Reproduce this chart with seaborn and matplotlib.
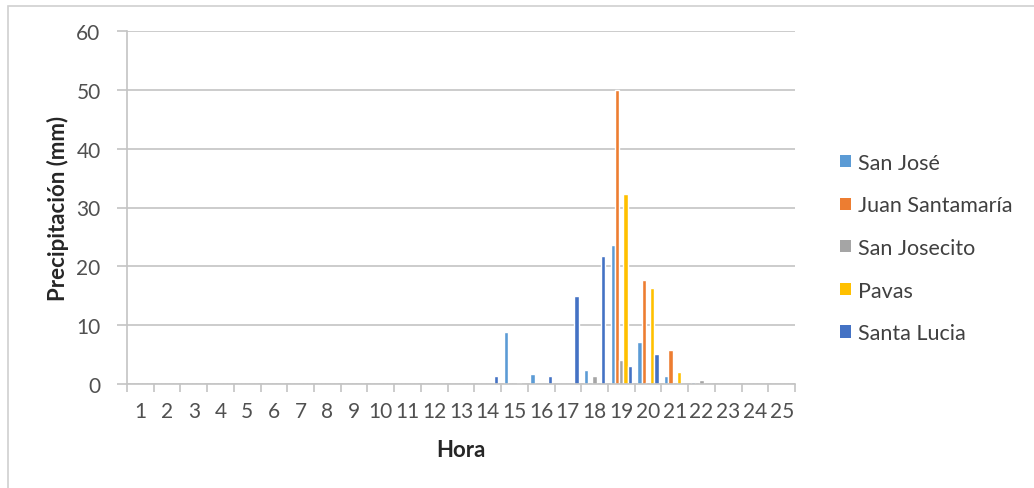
import matplotlib
matplotlib.use("Agg")
import matplotlib.pyplot as plt
import seaborn as sns
import pandas as pd
import numpy as np
from matplotlib.patches import Rectangle

hours = [str(h) for h in range(1, 26)]
series_names = ["San José", "Juan Santamaría", "San Josecito", "Pavas", "Santa Lucia"]
colors = ["#5B9BD5", "#ED7D31", "#A5A5A5", "#FFC000", "#4472C4"]

# values per hour (1..25)
san_jose =        [0]*14 + [8.9, 1.7, 0, 2.3, 23.7, 7.2, 1.3, 0.3, 0, 0, 0]
juan_santamaria = [0]*18 + [50.0, 17.7, 5.8, 0, 0, 0, 0]
san_josecito =    [0]*17 + [1.4, 4.0, 0.3, 0, 0.7, 0, 0, 0]
pavas =           [0]*14 + [0.2, 0, 0, 0, 32.3, 16.4, 2.1, 0, 0, 0, 0]
santa_lucia =     [0]*13 + [1.4, 0, 1.4, 15.0, 21.8, 3.1, 5.1, 0, 0, 0, 0, 0]

values = [san_jose, juan_santamaria, san_josecito, pavas, santa_lucia]
rows = []
for name, vals in zip(series_names, values):
    for h, v in zip(hours, vals):
        rows.append({"Hora": h, "Estación": name, "Precipitación": v})
df = pd.DataFrame(rows)

sns.set_theme(style="white")
plt.rcParams["font.family"] = ["Lato", "DejaVu Sans"]

W, H = 1034, 489
fig = plt.figure(figsize=(W / 100, H / 100), dpi=100)
ax = fig.add_axes([127 / W, 1 - 385 / H, (795 - 127) / W, (385 - 32) / H])

sns.barplot(data=df, x="Hora", y="Precipitación", hue="Estación",
            hue_order=series_names, order=hours, palette=colors,
            saturation=1, width=0.8, ax=ax, legend=False, errorbar=None)

grid_c = "#C4C4C4"
ax.set_ylim(0, 60)
ax.set_xlim(-0.5, 24.5)
ax.set_yticks(np.arange(0, 61, 10))
ax.yaxis.grid(True, color=grid_c, linewidth=1.2)
ax.set_axisbelow(True)
for s in ["top", "right"]:
    ax.spines[s].set_visible(False)
for s in ["left", "bottom"]:
    ax.spines[s].set_color(grid_c)
    ax.spines[s].set_linewidth(1.2)

ax.set_xticks(np.arange(-0.5, 25, 1))
ax.set_xticklabels([])
ax.set_xticks(np.arange(25), minor=True)
ax.set_xticklabels(hours, minor=True)
ax.tick_params(axis="x", which="major", length=6, width=1.2, color=grid_c, direction="out", bottom=True)
ax.tick_params(axis="x", which="minor", length=0, pad=12, labelsize=15, labelcolor="#505050")
ax.tick_params(axis="y", length=7, width=1.2, color=grid_c, direction="out", left=True,
               pad=12, labelsize=15, labelcolor="#505050")

ax.set_xlabel("Hora", fontsize=16, fontweight="bold", color="#262626")
ax.set_ylabel("Precipitación (mm)", fontsize=16, fontweight="bold", color="#262626")
ax.xaxis.set_label_coords(0.5, (385 - 440) / 353)
ax.yaxis.set_label_coords((69 - 127) / 668, 0.5)

handles = [Rectangle((0, 0), 1, 1, facecolor=c, edgecolor="none") for c in colors]
fig.legend(handles, series_names, loc="center left",
           bbox_to_anchor=(829 / W, 1 - 249 / H), frameon=False,
           fontsize=15.5, handlelength=0.5, handleheight=0.5,
           handletextpad=0.35, labelspacing=1.05, labelcolor="#404040", borderpad=0)

fig.patches.append(Rectangle((8 / W, -0.05), 1.1, 1 - 7 / H + 0.05,
                             transform=fig.transFigure, fill=False,
                             edgecolor="#D0D0D0", linewidth=1.2))

fig.savefig("out.png", dpi=100)
